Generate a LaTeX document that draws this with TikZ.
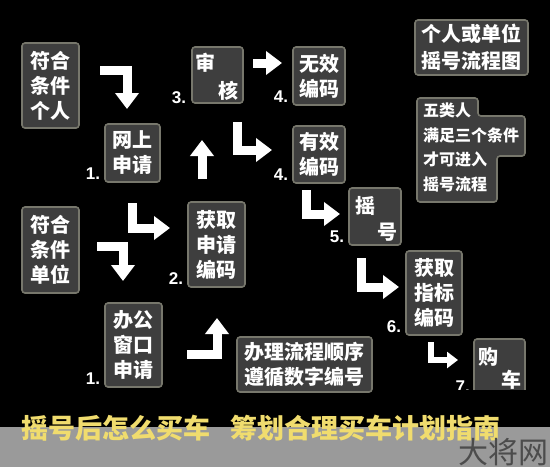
\documentclass[tikz,border=0pt]{standalone}
\usepackage{fontspec}
\setmainfont{Liberation Sans}
\newfontfamily\cjk{Noto Sans CJK SC}
\usetikzlibrary{arrows.meta}
\definecolor{boxfill}{HTML}{3E3E3E}
\definecolor{boxline}{HTML}{77776C}
\definecolor{titleyellow}{HTML}{F0DC6E}
\definecolor{bandgray}{HTML}{9A9A9A}

\begin{document}
\begin{tikzpicture}[x=1pt, y=-1pt,
    box/.style={draw=boxline, fill=boxfill, line width=1.6pt, rounded corners=3pt,
      text=white, font=\cjk\bfseries\fontsize{20}{25}\selectfont, align=center, inner sep=0pt},
    txt/.style={text=white, font=\cjk\bfseries\fontsize{20}{25}\selectfont, inner sep=0pt},
    num/.style={text=white, font=\bfseries\fontsize{17}{17}\selectfont, inner sep=0pt, anchor=base east},
    arr/.style={draw=white, line width=9pt, line join=miter, -{Triangle[width=23pt,length=16pt]}},
    arrsmall/.style={arr, line width=6pt, -{Triangle[width=16pt,length=11pt]}}]
    \useasboundingbox (0,0) rectangle (550,467);
    \fill[black] (0,0) rectangle (550,467);

    % boxes
    \node[box, minimum width=57pt, minimum height=85pt] (geren) at (50.5,85.5) {符合\\条件\\个人};
    \node[box, minimum width=55pt, minimum height=58pt] (wangshang) at (132.5,153) {网上\\申请};
    \node[box, minimum width=51pt, minimum height=56pt] (shenhe) at (217.5,75) {};
    \node[txt] (shen) at (205,63) {审};
    \node[txt] (he) at (228,91) {核};
    \node[box, minimum width=52pt, minimum height=58pt] (wuxiao) at (319,76) {无效\\编码};
    \node[box, minimum width=52pt, minimum height=57pt] (youxiao) at (319,154.5) {有效\\编码};
    \node[box, minimum width=52pt, minimum height=57pt] (yaohao) at (375,216.5) {};
    \node[txt] (yao) at (365,206) {摇};
    \node[txt] (hao) at (387,232) {号};
    \node[box, minimum width=56pt, minimum height=84pt] (zhibiao) at (434,293) {获取\\指标\\编码};
    \node[box, minimum width=57pt, minimum height=86pt] (danwei) at (50.5,250) {符合\\条件\\单位};
    \node[box, minimum width=57pt, minimum height=85pt] (bianma) at (216.5,244.5) {获取\\申请\\编码};
    \node[box, minimum width=57pt, minimum height=84pt] (chuangkou) at (133.5,345) {办公\\窗口\\申请};
    \node[box, minimum width=135pt, minimum height=55pt] (shunxu) at (304.5,364.5) {办理流程顺序\\遵循数字编号};
    \node[box, minimum width=113pt, minimum height=55pt, font=\cjk\bfseries\fontsize{20}{27}\selectfont] (biaoti) at (471.5,47.5) {个人或单位\\摇号流程图};
    \draw[box] (417,98) -- (478,98) -- (478,116) -- (525,116) -- (525,156) -- (497,156) -- (497,202) -- (417,202) -- cycle;
    \node[txt, anchor=north west, align=left, font=\cjk\bfseries\fontsize{16}{24.5}\selectfont] (tiaojian) at (423,103) {五类人\\满足三个条件\\才可进入\\摇号流程};
    \begin{scope}
      \clip (0,0) rectangle (550,389);
      \node[box, minimum width=51pt, minimum height=62pt] (gouche) at (499.5,370) {};
      \node[txt] (gou) at (488,357) {购};
      \node[txt] (che) at (511,380) {车};
      \node[num] (n7) at (470,392) {7.};
    \end{scope}

    % step numbers
    \node[num] (n1a) at ([shift={(-4,-3)}]wangshang.south west) {1.};
    \node[num] (n1b) at ([shift={(-4,-3)}]chuangkou.south west) {1.};
    \node[num] (n2) at ([shift={(-4,-3)}]bianma.south west) {2.};
    \node[num] (n3) at ([shift={(-5,0)}]shenhe.south west) {3.};
    \node[num] (n4a) at ([shift={(-4,-3)}]wuxiao.south west) {4.};
    \node[num] (n4b) at ([shift={(-4,-3)}]youxiao.south west) {4.};
    \node[num] (n5) at ([shift={(-4,-3)}]yaohao.south west) {5.};
    \node[num] (n6) at ([shift={(-4,-3)}]zhibiao.south west) {6.};

    % arrows
    \coordinate (p1) at (100,70);  \coordinate (q1) at (127,109);
    \coordinate (p2) at (202,179); \coordinate (q2) at (202,140);
    \coordinate (p3) at (253,63);  \coordinate (q3) at (282,63);
    \coordinate (p4) at (237,122); \coordinate (q4) at (272,150);
    \coordinate (p5) at (306,190); \coordinate (q5) at (340,214);
    \coordinate (p6) at (361,258); \coordinate (q6) at (399,287);
    \coordinate (p7) at (431,342); \coordinate (q7) at (458,360);
    \coordinate (p8) at (97,246);  \coordinate (q8) at (123,281);
    \coordinate (p9) at (132,203); \coordinate (q9) at (170,228);
    \coordinate (p10) at (187,354); \coordinate (q10) at (217,318);
    \draw[arr] (p1) -| (q1);
    \draw[arr] (p2) -- (q2);
    \draw[arr] (p3) -- (q3);
    \draw[arr] (p4) |- (q4);
    \draw[arr] (p5) |- (q5);
    \draw[arr] (p6) |- (q6);
    \draw[arrsmall] (p7) |- (q7);
    \draw[arr] (p8) -| (q8);
    \draw[arr] (p9) |- (q9);
    \draw[arr] (p10) -| (q10);

    % bottom band
    \fill[bandgray] (0,427) rectangle (550,467);
    \node[text=titleyellow, font=\cjk\bfseries\fontsize{27}{30}\selectfont, inner sep=0pt] (zhinan) at (261,428) {摇号后怎么买车\hspace{20pt}筹划合理买车计划指南};
    \node[text=black!70, font=\cjk\fontsize{30}{30}\selectfont, anchor=east, inner sep=0pt] (shuiyin) at (549,452) {大将网};
  \end{tikzpicture}
\end{document}
